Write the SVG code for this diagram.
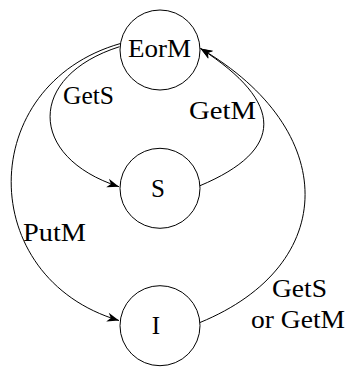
<svg xmlns="http://www.w3.org/2000/svg" width="349" height="367" viewBox="0 0 349 367">
<style>
.node circle{fill:#fff;stroke:#000;stroke-width:1}
text{font-family:"Liberation Serif","DejaVu Serif",serif;font-size:25px;fill:#000}
.edge{fill:none;stroke:#000;stroke-width:1}
</style>
<defs>
<marker id="arr" markerUnits="userSpaceOnUse" markerWidth="16" markerHeight="12" viewBox="-13 -6 14 12" refX="0" refY="0" orient="auto">
<path d="M0,0 L-12,-4.5 L-8.5,0 L-12,4.5 Z" fill="#000"/>
</marker>
</defs>
<g id="connectors">
<path class="edge" d="M119.5,46.7 C27,76 27,157 119,186.7" marker-end="url(#arr)"/>
<path class="edge" d="M120.5,43.5 C-25,85 -25,278 119,320.5" marker-end="url(#arr)"/>
<path class="edge" d="M200,185.7 C285,150 285,103 200.5,48.5" marker-end="url(#arr)"/>
<path class="edge" d="M200,322.5 C340,265 340,130 200.5,48.5" marker-end="url(#arr)"/>
</g>
<g id="labels">
<text x="63" y="104" textLength="51" lengthAdjust="spacingAndGlyphs">GetS</text>
<text x="189" y="119" textLength="67" lengthAdjust="spacingAndGlyphs">GetM</text>
<text x="23" y="241" textLength="63" lengthAdjust="spacingAndGlyphs">PutM</text>
<text x="272" y="297" textLength="55" lengthAdjust="spacingAndGlyphs">GetS</text>
<text x="251" y="328" textLength="94" lengthAdjust="spacingAndGlyphs">or GetM</text>
</g>
<g id="node-EorM" class="node">
<circle cx="160" cy="50" r="40"/>
<text x="128" y="57" textLength="63" lengthAdjust="spacingAndGlyphs">EorM</text>
</g>
<g id="node-S" class="node">
<circle cx="160" cy="188.3" r="40"/>
<text x="158" y="197" text-anchor="middle">S</text>
</g>
<g id="node-I" class="node">
<circle cx="160" cy="325.7" r="40"/>
<text x="156" y="334" text-anchor="middle">I</text>
</g>
</svg>
